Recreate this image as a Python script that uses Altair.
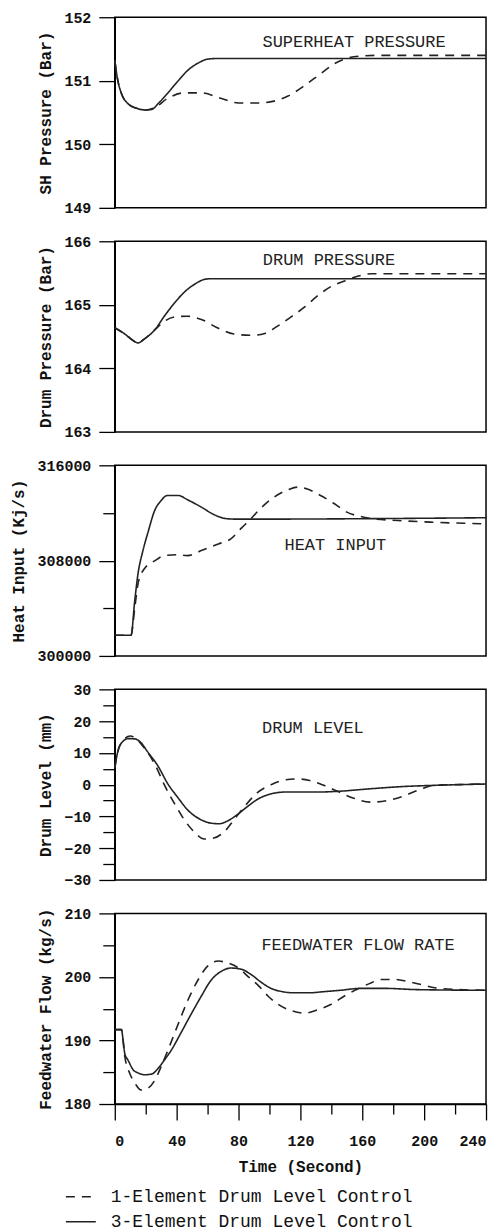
import altair as alt
import pandas as pd

S1 = "1-Element Drum Level Control"
S3 = "3-Element Drum Level Control"

# ---- Superheat pressure (Bar)
t_sh3 = [0, 2, 4, 8.5, 15, 20, 24, 28, 34, 41, 47, 54, 60, 66, 240]
sh3 = [151.32, 151.0, 150.82, 150.64, 150.56, 150.54, 150.55, 150.64, 150.80, 151.0, 151.16, 151.28, 151.34, 151.35, 151.35]
t_sh1 = [0, 2, 4, 8.5, 15, 20, 26, 34, 45, 56, 69, 80, 93, 103, 112, 123, 133, 142, 151, 159, 170, 240]
sh1 = [151.32, 151.0, 150.82, 150.64, 150.56, 150.54, 150.58, 150.72, 150.81, 150.81, 150.72, 150.65, 150.65, 150.68, 150.76, 150.93, 151.11, 151.27, 151.36, 151.39, 151.40, 151.40]

# ---- Drum pressure (Bar)
t_dp3 = [0, 6.5, 13, 15, 19, 26, 32, 39, 45, 52, 58, 62, 240]
dp3 = [164.64, 164.54, 164.42, 164.40, 164.46, 164.61, 164.82, 165.04, 165.20, 165.33, 165.40, 165.41, 165.41]
t_dp1 = [0, 6.5, 13, 15, 19, 26, 32, 39, 47, 56, 67, 77, 88, 97, 105, 114, 123, 131, 140, 149, 157, 166, 240]
dp1 = [164.64, 164.54, 164.42, 164.40, 164.46, 164.61, 164.74, 164.81, 164.82, 164.77, 164.63, 164.54, 164.52, 164.55, 164.66, 164.81, 164.97, 165.14, 165.29, 165.38, 165.45, 165.49, 165.49]

# ---- Heat input (Kj/s)
t_hi3 = [0, 10.5, 12.9, 15, 18.2, 21.5, 25.8, 30, 34, 41, 47, 56, 64, 73, 80, 240]
hi3 = [301740, 301740, 304630, 306880, 308840, 310390, 312210, 313050, 313470, 313470, 313110, 312490, 311870, 311510, 311480, 311600]
t_hi1 = [0, 10.5, 12.9, 15, 19, 26, 32, 41, 47, 56, 67, 75, 82, 88, 94, 103, 112, 118, 124, 133, 142, 150, 159, 167, 183, 204, 240]
hi1 = [301740, 301740, 304000, 306040, 307300, 308000, 308420, 308500, 308420, 308840, 309400, 309820, 310750, 311510, 312350, 313330, 313950, 314170, 314030, 313470, 312770, 312070, 311700, 311510, 311370, 311230, 311090]

# ---- Drum level (mm)
t_dl3 = [0, 2, 5.4, 8.6, 13, 17, 21, 28, 34, 41, 47, 56, 62, 67.5, 73, 79, 86, 92, 101, 111, 133, 144, 165, 186, 208, 240]
dl3 = [5.3, 10.5, 13.7, 14.5, 14.4, 13.2, 10.5, 5.8, 0.5, -4.2, -7.9, -11.1, -12.1, -12.3, -11.4, -9.5, -6.8, -4.7, -2.9, -2.3, -2.3, -2.1, -1.3, -0.6, -0.2, 0.2]
t_dl1 = [0, 2, 5.4, 10, 19, 26, 32, 39, 45, 51, 58, 64, 71, 77, 84, 92, 101, 109, 118, 126, 135, 144, 154, 165, 176, 186, 197, 206, 220, 240]
dl1 = [5.3, 10.5, 13.9, 15.3, 11.6, 6.3, 0.0, -6.3, -11.1, -14.7, -17.1, -16.8, -14.7, -11.1, -6.8, -2.6, 0.0, 1.4, 1.8, 1.3, -0.2, -2.1, -4.2, -5.5, -5.0, -3.7, -1.6, -0.2, 0.0, 0.2]

# ---- Feedwater flow (kg/s)
t_fw3 = [0, 4.3, 5.4, 6.5, 8.6, 11.8, 15, 19.4, 23.7, 28, 32, 36.6, 43, 49.5, 56, 62, 69, 75, 82, 88, 95, 101, 108, 116, 125, 136, 146, 159, 174, 196, 240]
fw3 = [191.7, 191.7, 190.0, 187.9, 186.9, 185.4, 184.9, 184.6, 184.7, 185.6, 186.9, 188.5, 191.3, 194.2, 197.0, 199.4, 200.9, 201.4, 201.2, 200.4, 199.1, 198.2, 197.7, 197.5, 197.5, 197.7, 197.9, 198.2, 198.2, 198.0, 197.9]
t_fw1 = [0, 4.3, 6.5, 9.7, 13, 17, 21.5, 26, 30, 34.4, 41, 47, 54, 60, 67, 73, 80, 86, 93, 99, 105.5, 114, 123, 131, 140, 148.5, 157, 166, 172, 181, 189, 198, 207, 215, 240]
fw1 = [191.7, 191.7, 187.4, 184.8, 183.3, 182.2, 182.5, 183.8, 185.9, 188.5, 192.6, 196.2, 199.6, 201.7, 202.5, 202.2, 201.4, 200.1, 198.6, 197.0, 195.7, 194.7, 194.3, 194.8, 195.7, 197.0, 198.1, 199.1, 199.6, 199.6, 199.3, 198.8, 198.3, 198.1, 197.9]

# ---- panel annotations
ann_labels = ["SUPERHEAT PRESSURE", "DRUM PRESSURE", "HEAT INPUT", "DRUM LEVEL", "FEEDWATER FLOW RATE"]
ann_t = [95.5, 95.7, 109.7, 95.2, 94.8]
ann_v = [151.61, 165.71, 309350, 17.9, 205.0]

y_titles = ["SH Pressure (Bar)", "Drum Pressure (Bar)", "Heat Input (Kj/s)", "Drum Level (mm)", "Feedwater Flow (kg/s)"]
y_domains = [[149, 152], [163, 166], [300000, 316000], [-30, 30], [180, 210]]
y_ticks = [
    [149, 149.5, 150, 150.5, 151, 151.5, 152],
    [163, 163.5, 164, 164.5, 165, 165.5, 166],
    [300000, 304000, 308000, 312000, 316000],
    [-30, -25, -20, -15, -10, -5, 0, 5, 10, 15, 20, 25, 30],
    [180, 185, 190, 195, 200, 205, 210],
]
y_major = [1, 1, 8000, 10, 10]
x_ticks = list(range(0, 241, 20))

series_data = [
    (t_sh1, sh1, t_sh3, sh3),
    (t_dp1, dp1, t_dp3, dp3),
    (t_hi1, hi1, t_hi3, hi3),
    (t_dl1, dl1, t_dl3, dl3),
    (t_fw1, fw1, t_fw3, fw3),
]

INK = "#222222"

legend = alt.Legend(
    orient="none", legendX=-50, legendY=268, title=None, direction="vertical",
    symbolType="stroke", symbolSize=900, symbolStrokeWidth=1.5, symbolStrokeColor=INK,
    labelFont="Liberation Mono", labelFontSize=18, labelColor="#111", labelOffset=14,
    rowPadding=-17, labelLimit=0,
)


def make_panel(i, show_x):
    ta, va, tb, vb = series_data[i]
    df = pd.concat([
        pd.DataFrame({"t": ta, "v": va, "series": S1}),
        pd.DataFrame({"t": tb, "v": vb, "series": S3}),
    ])
    ann = pd.DataFrame({"t": [ann_t[i]], "v": [ann_v[i]], "label": [ann_labels[i]]})
    m = y_major[i]
    b = y_domains[i][0]
    test = f"(datum.value - ({b})) % {m} === 0"
    yaxis = alt.Axis(
        values=y_ticks[i], format="d",
        labelExpr=f"{test} ? datum.label : ''",
        tickSize={"condition": {"test": test, "value": 16}, "value": 12},
        title=y_titles[i],
    )
    y = alt.Y("v:Q", scale=alt.Scale(domain=y_domains[i], nice=False, zero=False), axis=yaxis)
    if show_x:
        xaxis = alt.Axis(
            values=x_ticks, format="d",
            labelExpr="datum.value % 40 === 0 ? datum.label : ''",
            tickSize={"condition": {"test": "datum.value % 40 === 0", "value": 16}, "value": 10},
            title="Time (Second)", labelPadding=14, titlePadding=10,
        )
    else:
        xaxis = None
    x = alt.X("t:Q", scale=alt.Scale(domain=[0, 240], nice=False), axis=xaxis)
    lines = alt.Chart(df).mark_line(color=INK, strokeWidth=1.6, interpolate="monotone").encode(
        x=x, y=y,
        strokeDash=alt.StrokeDash(
            "series:N",
            scale=alt.Scale(domain=[S1, S3], range=[[9, 7], [1, 0]]),
            legend=legend if show_x else None,
        ),
    )
    text = alt.Chart(ann).mark_text(
        align="left", baseline="middle", font="Liberation Mono", fontSize=17, color=INK
    ).encode(x=x, y=y, text="label:N")
    return alt.layer(lines, text).properties(width=372, height=191)


panels = [make_panel(i, i == 4) for i in range(5)]

chart = (
    alt.vconcat(*panels, spacing=16.5)
    .resolve_scale(strokeDash="shared")
    .resolve_legend(strokeDash="independent")
    .properties(padding={"left": 2, "top": 0, "right": 5, "bottom": 0}, background="white")
    .configure_view(stroke="black", strokeWidth=1.5)
    .configure_axis(
        grid=False, domainColor="black", domainWidth=1.5, tickColor="black", tickWidth=1.3,
        labelFont="Liberation Mono", labelFontWeight="bold", labelFontSize=15, labelColor="#111",
        labelPadding=8,
        titleFont="Liberation Mono", titleFontWeight="bold", titleFontSize=16, titleColor="#111",
        titlePadding=10,
    )
)

chart.save("out.html", embed_options={"renderer": "svg", "actions": False})
